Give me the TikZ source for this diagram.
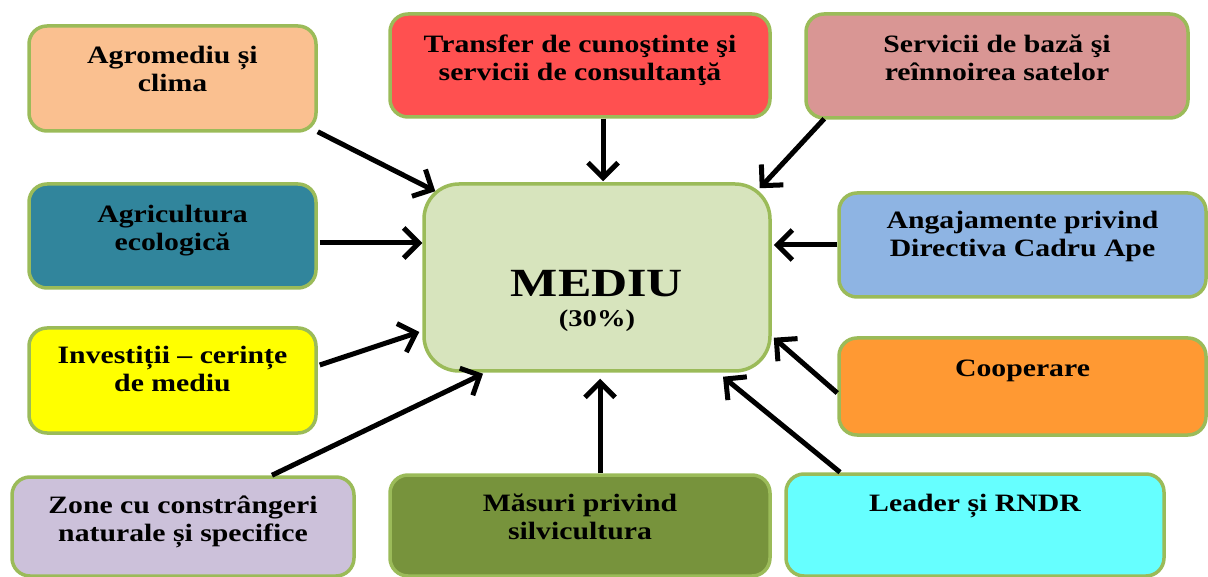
\documentclass[tikz,border=0pt]{standalone}
\usepackage{fontspec}
\setmainfont{Liberation Serif}[FakeStretch=1.19]
\newfontfamily\medfont{Liberation Serif}[FakeStretch=1.25]
\usetikzlibrary{arrows.meta}
\definecolor{bord}{HTML}{9BBB59}
\definecolor{cAgro}{HTML}{FAC090}
\definecolor{cTrans}{HTML}{FF5050}
\definecolor{cServ}{HTML}{D99694}
\definecolor{cAgric}{HTML}{31859C}
\definecolor{cMed}{HTML}{D7E4BD}
\definecolor{cAngaj}{HTML}{8EB4E3}
\definecolor{cInv}{HTML}{FFFF00}
\definecolor{cCoop}{HTML}{FF9933}
\definecolor{cZone}{HTML}{CCC1DA}
\definecolor{cMas}{HTML}{77933C}
\definecolor{cLead}{HTML}{66FFFF}
\newcommand{\mystrut}{\rule{0pt}{20pt}}
\tikzset{
  box/.style={draw=bord, line width=3.5pt, rounded corners=18pt, inner sep=0pt},
  lbl/.style={font=\fontsize{25}{28.5}\selectfont\bfseries, align=center, inner sep=0pt, anchor=north, text=black},
  conn/.style={line width=5pt, -{Straight Barb[length=15pt,width=30pt]}, black}
}
\begin{document}
\begin{tikzpicture}[x=1pt,y=-1pt]
\useasboundingbox (0,0) rectangle (1208,577);
% boxes
\node[box, fill=cAgro, minimum width=287pt, minimum height=105pt] (agro) at (172.5,78.5) {};
\node[box, fill=cTrans, minimum width=380pt, minimum height=103pt] (trans) at (580,65.5) {};
\node[box, fill=cServ, minimum width=382pt, minimum height=104pt] (serv) at (997,66) {};
\node[box, fill=cAgric, minimum width=287pt, minimum height=104pt] (agric) at (172.5,236) {};
\node[box, fill=cMed, minimum width=346pt, minimum height=187pt, rounded corners=35pt] (med) at (597,277.5) {};
\node[box, fill=cAngaj, minimum width=367pt, minimum height=104pt] (angaj) at (1022.5,245) {};
\node[box, fill=cInv, minimum width=287pt, minimum height=105pt] (inv) at (172.5,380.5) {};
\node[box, fill=cCoop, minimum width=367pt, minimum height=97pt] (coop) at (1022.5,386.5) {};
\node[box, fill=cZone, minimum width=342pt, minimum height=99pt] (zone) at (183,526.5) {};
\node[box, fill=cMas, minimum width=380pt, minimum height=101pt] (mas) at (580,525.5) {};
\node[box, fill=cLead, minimum width=378pt, minimum height=102pt] (lead) at (975,525) {};
% texts
\node[lbl] (tagro) at ([yshift=-19pt]agro.north) {\mystrut Agromediu și\\clima};
\node[lbl] (ttrans) at ([yshift=-20pt]trans.north) {\mystrut Transfer de cunoştinte şi\\servicii de consultanţă};
\node[lbl] (tserv) at ([yshift=-20pt]serv.north) {\mystrut Servicii de bază şi\\reînnoirea satelor};
\node[lbl] (tagric) at ([yshift=-20pt]agric.north) {\mystrut Agricultura\\ecologică};
\node[lbl] (tangaj) at ([yshift=-17pt]angaj.north) {\mystrut Angajamente privind\\Directiva Cadru Ape};
\node[lbl] (tinv) at ([yshift=-17pt]inv.north) {\mystrut Investiții – cerințe\\de mediu};
\node[lbl] (tcoop) at ([yshift=-20pt]coop.north) {\mystrut Cooperare};
\node[lbl] (tzone) at ([yshift=-18pt]zone.north) {\mystrut Zone cu constrângeri\\naturale și specifice};
\node[lbl] (tmas) at ([yshift=-18pt]mas.north) {\mystrut Măsuri privind\\silvicultura};
\node[lbl] (tlead) at ([yshift=-19pt]lead.north) {\mystrut Leader și RNDR};
\node[font=\medfont\fontsize{40}{42}\selectfont\bfseries, anchor=base, inner sep=0pt] (tmed) at ([yshift=-19.5pt]med.center) {MEDIU};
\node[font=\fontsize{24}{26}\selectfont\bfseries, anchor=base, inner sep=0pt] (tpct) at ([yshift=-49.5pt]med.center) {(30\%)};
% connectors
\draw[conn] ([yshift=1pt]agro.south east) -- ([xshift=13pt,yshift=-9pt]med.north west);
\draw[conn] ([xshift=23pt]trans.south) -- ([xshift=6pt,yshift=1pt]med.north);
\draw[conn] ([xshift=20pt,yshift=1pt]serv.south west) -- ([xshift=-12pt,yshift=-6pt]med.north east);
\draw[conn] ([xshift=2pt,yshift=-7pt]agric.east) -- ([xshift=0pt,yshift=34.5pt]med.west);
\draw[conn] (angaj.west) -- ([xshift=2pt,yshift=32.5pt]med.east);
\draw[conn] ([xshift=2pt,yshift=15.5pt]inv.east) -- ([xshift=-3pt,yshift=-54.5pt]med.west);
\draw[conn] ([xshift=89pt]zone.north) -- ([xshift=-114pt,yshift=-1pt]med.south);
\draw[conn] ([xshift=20pt]mas.north) -- ([xshift=3pt,yshift=-6pt]med.south);
\draw[conn] ([yshift=-6.5pt]coop.west) -- ([xshift=2pt,yshift=35pt]med.south east);
\draw[conn] ([xshift=-135pt]lead.north) -- ([xshift=126pt,yshift=-4pt]med.south);
\end{tikzpicture}
\end{document}
